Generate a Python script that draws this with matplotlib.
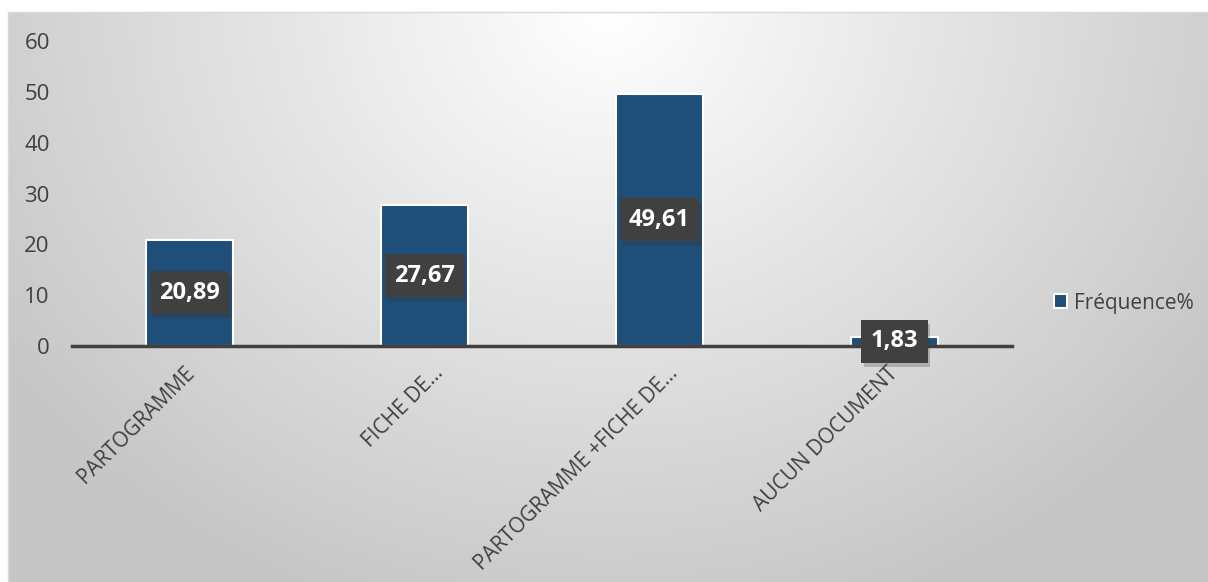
import numpy as np
import matplotlib
matplotlib.use("Agg")
import matplotlib.pyplot as plt
import matplotlib.patheffects as pe
from matplotlib.transforms import ScaledTranslation

categories = ["PARTOGRAMME", "FICHE DE…", "PARTOGRAMME +FICHE DE…", "AUCUN DOCUMENT"]
values = [20.89, 27.67, 49.61, 1.83]
value_labels = ["20,89", "27,67", "49,61", "1,83"]
y_ticks = [0, 10, 20, 30, 40, 50, 60]
series_name = "Fréquence%"

plt.rcParams["font.family"] = ["Open Sans", "DejaVu Sans"]

W, H = 1208, 582
fig = plt.figure(figsize=(W / 100, H / 100), dpi=100)
fig.patch.set_facecolor("white")

# soft radial backdrop: bright near the top centre, grey towards the edges
bg = fig.add_axes([8 / W, 0, 1 - 8 / W, 1 - 12 / H])
yy, xx = np.mgrid[0:1:300j, 0:1:600j]
r = np.sqrt(((xx - 0.5) / 0.6) ** 2 + ((yy - 0.0) / 1.1) ** 2)
shade = 1.0 - 0.22 * np.clip(r, 0, 1.0)
bg.imshow(np.dstack([shade] * 3), aspect="auto", extent=[0, 1, 0, 1], origin="upper")
bg.set_axis_off()
bg.plot([0, 0], [0, 1], color="#d9d9d9", lw=1, transform=bg.transAxes, clip_on=False)
bg.plot([0, 1], [1, 1], color="#d9d9d9", lw=1, transform=bg.transAxes, clip_on=False)

ax = fig.add_axes([72 / W, 1 - 346 / H, (1012 - 72) / W, (346 - 41) / H])
ax.patch.set_alpha(0)
x = np.arange(len(categories))
bars = ax.bar(x, values, width=0.37, color="#1f4e79", edgecolor="white", linewidth=1.5,
              label=series_name, zorder=2)
ax.set_xlim(-0.5, len(categories) - 0.5)
ax.set_ylim(0, 60)
ax.set_yticks(y_ticks)
ax.set_yticklabels([str(t) for t in y_ticks], fontsize=16, color="#404040")
ax.tick_params(axis="y", length=0, pad=16)
ax.set_xticks(x)
ax.set_xticklabels(categories, rotation=45, ha="right", va="top", rotation_mode="anchor",
                   fontsize=15, color="#404040")
ax.tick_params(axis="x", length=0, pad=12)
# small horizontal nudges (in pixels) for the slanted category labels
nudges = [-5, 8, 8, -7]
for lab, dx in zip(ax.get_xticklabels(), nudges):
    lab.set_transform(lab.get_transform() + ScaledTranslation(dx / 100, 0, fig.dpi_scale_trans))
for s in ["top", "right", "left"]:
    ax.spines[s].set_visible(False)
ax.spines["bottom"].set_color("#404040")
ax.spines["bottom"].set_linewidth(2.5)
ax.spines["bottom"].set_zorder(3)

for xi, v, lab in zip(x, values, value_labels):
    ax.text(xi, v / 2, lab, ha="center", va="center", fontsize=17, fontweight="bold",
            color="white", zorder=5,
            bbox=dict(boxstyle="square,pad=0.4", facecolor="#404040", edgecolor="none",
                      path_effects=[pe.SimplePatchShadow(offset=(2, -3), alpha=0.25,
                                                         shadow_rgbFace="#333333"),
                                    pe.Normal()]))

leg = fig.legend(handles=[bars], labels=[series_name], loc="center left",
                 bbox_to_anchor=(1035 / W, 1 - 303 / H), frameon=False, fontsize=15,
                 handlelength=0.65, handleheight=0.65, handletextpad=0.3)
for t in leg.get_texts():
    t.set_color("#404040")

fig.savefig("out.png", dpi=100)
